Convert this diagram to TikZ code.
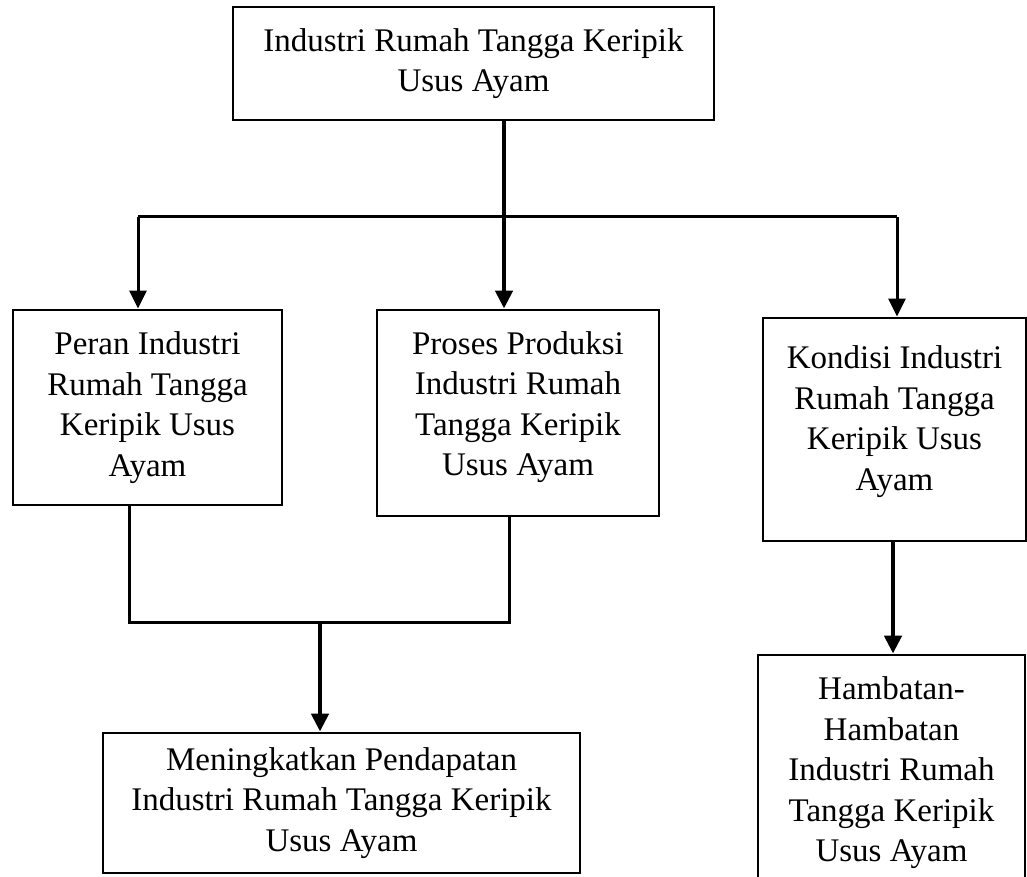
\documentclass[tikz,border=0pt]{standalone}
\usepackage{fontspec}
\setmainfont{Liberation Serif}
\usetikzlibrary{arrows.meta}
\newcommand{\liftlines}[2]{\raisebox{#1}[\height][\depth]{\begin{tabular}{@{}c@{}}#2\end{tabular}}}
\tikzset{
  box/.style={draw=black, line width=2.8pt, rectangle, inner sep=0pt, align=center,
    font=\fontsize{33}{40.5}\selectfont},
  conn/.style={draw=black, line width=3pt},
  thick conn/.style={draw=black, line width=4.8pt},
  arr/.style={-{Triangle[length=18pt,width=17pt]}},
}
\begin{document}
\begin{tikzpicture}[x=1pt,y=-1pt]
\fill[white] (0,0) rectangle (1027,877);
\useasboundingbox (0,0) rectangle (1027,877);
\clip (0,0) rectangle (1027,877);
% boxes
\node[box, minimum width=481pt, minimum height=113pt] (top) at (473.5,63.5)
  {Industri Rumah Tangga Keripik\\Usus Ayam};
\node[box, minimum width=269pt, minimum height=195pt] (peran) at (147.5,407.5)
  {Peran Industri\\Rumah Tangga\\Keripik Usus\\Ayam};
\node[box, minimum width=282pt, minimum height=206pt] (proses) at (518,413)
  {\liftlines{6pt}{Proses Produksi\\Industri Rumah\\Tangga Keripik\\Usus Ayam}};
\node[box, minimum width=263pt, minimum height=223pt] (kondisi) at (894.5,429.5)
  {\liftlines{8pt}{Kondisi Industri\\Rumah Tangga\\Keripik Usus\\Ayam}};
\node[box, minimum width=477pt, minimum height=140pt] (pendapatan) at (341.5,803)
  {Meningkatkan Pendapatan\\Industri Rumah Tangga Keripik\\Usus Ayam};
\node[box, minimum width=267pt, minimum height=236pt] (hambatan) at (891.5,773)
  {Hambatan-\\Hambatan\\Industri Rumah\\Tangga Keripik\\Usus Ayam};
% junction coordinates
\coordinate (jtop) at (504,217);
\coordinate (jl) at (138,217);
\coordinate (jr) at (897,217);
\coordinate (bl) at (129,622);
\coordinate (br) at (509,622);
\coordinate (bm) at (320,622);
\coordinate (kx) at (893,0);
% connectors
\draw[thick conn] (top.south -| jtop) -- (jtop);
\draw[conn] (jl) -- (jr);
\draw[conn, arr] (jl) -- (jl |- peran.north);
\draw[thick conn, arr] (jtop) -- (jtop |- proses.north);
\draw[conn, arr] (jr) -- (jr |- kondisi.north);
\draw[conn] (peran.south -| bl) -- (bl) -- (br) -- (proses.south -| br);
\draw[thick conn, arr] (bm) -- (bm |- pendapatan.north);
\draw[thick conn, arr] (kondisi.south -| kx) -- (hambatan.north -| kx);
\end{tikzpicture}
\end{document}
